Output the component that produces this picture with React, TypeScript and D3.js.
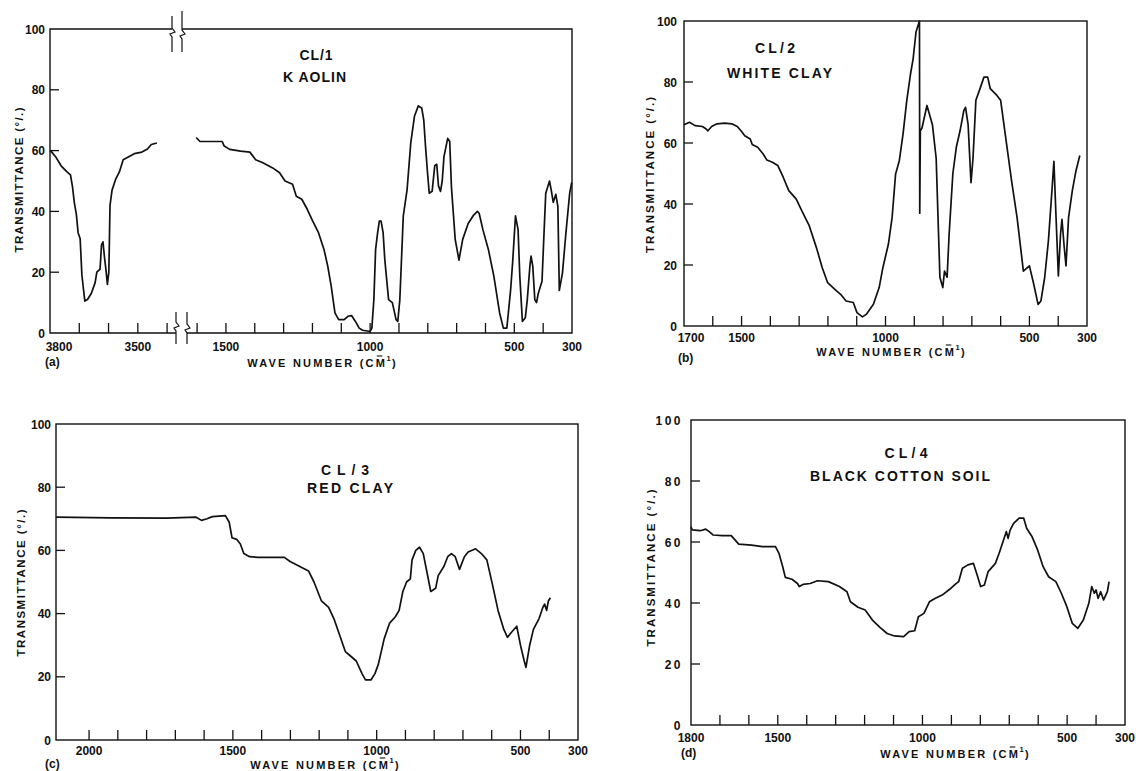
import React from "react";
import * as d3 from "d3";

type Pt = [number, number];

// ---------- (a) CL/1 KAOLIN : two sections of a broken wave-number axis ----------
const kaolinHigh: Pt[] = [
  [3800, 60], [3794, 59.5], [3781, 58], [3762, 55], [3742, 53], [3730, 52], [3723, 48], [3717, 43],
  [3710, 39], [3704, 33], [3697, 31], [3691, 19], [3681, 10.5], [3672, 11], [3659, 13], [3646, 16.5],
  [3640, 20], [3629, 21], [3624, 29], [3619, 30], [3614, 25], [3608, 20], [3604, 16], [3599, 20],
  [3595, 42], [3588, 47], [3576, 50.5], [3563, 53], [3550, 57], [3531, 58], [3512, 59], [3486, 59.5],
  [3467, 60.5], [3454, 62], [3435, 62.5],
];
const kaolinLow: Pt[] = [
  [1603, 64.3], [1590, 63], [1564, 63], [1526, 63], [1513, 63], [1506, 61.5], [1487, 60.4], [1449, 59.8],
  [1417, 59.5], [1397, 57], [1372, 56], [1333, 54], [1314, 52.7], [1295, 50], [1269, 48.9], [1256, 45],
  [1237, 44], [1218, 40.7], [1199, 36.8], [1179, 33], [1160, 27.5], [1147, 22], [1135, 15.4], [1122, 6.6],
  [1109, 4.4], [1090, 4.4], [1077, 5.5], [1064, 5.7], [1051, 3.8], [1038, 1.6], [1026, 0.9], [1000, 0.5],
  [994, 1.6], [987, 11], [981, 27.5], [974, 33], [968, 36.8], [962, 36.8], [955, 33], [949, 24],
  [936, 11], [923, 10], [910, 4.4], [904, 3.8], [897, 11], [885, 38.5], [872, 47], [859, 62.6],
  [846, 71.4], [833, 74.7], [821, 74], [814, 70], [808, 61.5], [801, 52.7], [795, 46], [785, 46.6],
  [776, 55], [769, 55.5], [763, 48.4], [756, 46.6], [750, 50], [744, 58], [731, 64], [724, 63],
  [718, 48], [705, 30.8], [692, 24], [679, 30.8], [660, 36], [641, 38.8], [628, 40], [622, 39.4],
  [609, 34], [590, 27.5], [571, 18.7], [551, 6.6], [538, 1.6], [526, 1.6], [513, 14], [506, 23],
  [496, 38.5], [487, 34], [481, 18.7], [472, 3.8], [462, 5], [455, 11], [446, 22], [442, 25.3],
  [436, 22], [429, 11], [423, 10], [417, 13], [404, 17], [397, 33], [391, 46], [378, 50],
  [372, 47], [365, 43], [356, 45.6], [349, 41.6], [344, 14], [333, 19.8], [321, 33], [308, 46], [301, 49.5],
];
const kaolinHighTicks = [3700, 3600, 3500, 3400];
const kaolinLowTicks = [1600, 1500, 1400, 1300, 1200, 1100, 1000, 900, 800, 700, 600, 500, 400];
const kaolinHighLabels = [3800, 3500];
const kaolinLowLabels = [1500, 1000, 500, 300];

// ---------- (b) CL/2 WHITE CLAY ----------
const whiteClay: Pt[] = [
  [1700, 66], [1681, 66.8], [1662, 65.7], [1636, 65.4], [1623, 64.6], [1617, 64], [1604, 65.4], [1585, 66.3],
  [1559, 66.5], [1534, 66.3], [1515, 65.4], [1502, 64], [1489, 62.4], [1470, 61.3], [1463, 59.5], [1444, 58.6],
  [1425, 56.4], [1412, 54.4], [1393, 53.7], [1374, 52.6], [1355, 48.7], [1336, 44.4], [1310, 41.6], [1291, 37.8],
  [1265, 32.9], [1240, 25.7], [1220, 19.2], [1201, 14.2], [1176, 12], [1156, 10.4], [1137, 8.2], [1112, 7.7],
  [1099, 4.4], [1080, 3], [1067, 3.8], [1042, 7.1], [1022, 12.6], [1009, 19.2], [990, 26.8], [977, 35.6],
  [965, 49.8], [952, 54.2], [939, 63], [926, 74], [913, 82.7], [904, 87.6], [894, 96.4], [887, 98.5],
  [882, 100], [881, 37], [879, 64], [873, 65], [856, 72.3], [837, 66], [824, 55], [811, 16],
  [801, 12.6], [795, 18], [786, 16], [779, 30], [766, 50], [754, 58.6], [741, 64], [728, 70.6],
  [722, 71.7], [713, 66], [703, 47], [696, 55], [686, 74], [671, 78], [658, 81.6], [645, 81.6],
  [636, 77.8], [613, 75.6], [600, 74], [581, 60.8], [562, 47.6], [543, 35.6], [521, 18], [500, 19.7],
  [485, 13.7], [470, 7.1], [460, 8.2], [447, 15.9], [434, 28], [421, 45.5], [415, 54], [408, 36.7],
  [399.5, 16.4], [392, 30], [387, 35], [380, 26.8], [373, 19.7], [364, 35.6], [351, 44.4], [338, 51], [325, 55.9],
];
const whiteClayTicks = [1600, 1500, 1400, 1300, 1200, 1100, 1000, 900, 800, 700, 600, 500, 400];
const whiteClayLabels = [1700, 1500, 1000, 500, 300];

// ---------- (c) CL/3 RED CLAY ----------
const redClay: Pt[] = [
  [2115, 70.5], [1923, 70.3], [1731, 70.2], [1628, 70.5], [1609, 69.5], [1590, 70], [1571, 70.7], [1526, 71],
  [1513, 69], [1503, 64], [1487, 63.5], [1474, 62], [1462, 59], [1442, 58], [1410, 57.8], [1321, 57.8],
  [1301, 56.5], [1269, 55], [1237, 53.5], [1218, 50], [1192, 44], [1167, 42], [1147, 38], [1128, 33],
  [1109, 28], [1090, 26.5], [1071, 25], [1051, 21], [1039, 19], [1020, 19], [1006, 21], [994, 24],
  [974, 32], [955, 37], [935, 39], [922, 41], [909, 47], [896, 50], [883, 51], [877, 57],
  [864, 60], [851, 61], [838, 59], [825, 53], [812, 47], [795, 48], [786, 52], [766, 55],
  [753, 58], [740, 59], [727, 58], [712, 54], [695, 58], [682, 59.5], [656, 60.5], [636, 59],
  [617, 57], [597, 49], [578, 41], [558, 35], [545, 32.5], [532, 34], [513, 36], [500, 30],
  [487, 25], [481, 23], [468, 30], [455, 35], [435, 38.5], [422, 42], [416, 43], [409, 41],
  [403, 44], [396, 45],
];
const redClayTicks = [2000, 1900, 1800, 1700, 1600, 1500, 1400, 1300, 1200, 1100, 1000, 900, 800, 700, 600, 500, 400];
const redClayLabels = [2000, 1500, 1000, 500, 300];

// ---------- (d) CL/4 BLACK COTTON SOIL ----------
const blackSoil: Pt[] = [
  [1800, 65], [1796, 64], [1768, 63.7], [1749, 64.2], [1737, 63.4], [1724, 62.3], [1692, 62.1], [1661, 62.1],
  [1648, 60.7], [1635, 59.3], [1591, 59], [1553, 58.5], [1508, 58.5], [1496, 56.3], [1483, 51.9], [1474, 48.4],
  [1451, 47.8], [1432, 46.4], [1426, 45.4], [1413, 46.1], [1388, 46.4], [1363, 47.3], [1325, 47], [1287, 45.4],
  [1261, 43.7], [1249, 40.4], [1223, 38.6], [1198, 37.7], [1173, 34.4], [1147, 32], [1122, 30], [1097, 29.2],
  [1065, 29], [1046, 30.6], [1027, 30.9], [1014, 35.5], [995, 36.6], [976, 40.4], [957, 41.5], [932, 42.6],
  [906, 44.5], [887, 46.1], [875, 47], [862, 51.4], [843, 52.5], [824, 53], [811, 49.2], [799, 45.4],
  [786, 45.9], [773, 50.3], [748, 53], [735, 56.3], [716, 61.7], [710, 63.4], [704, 61.2], [697, 63.9],
  [685, 66.1], [666, 67.8], [650, 67.8], [640, 64.5], [621, 61.7], [602, 57.4], [583, 51.9], [564, 48.6],
  [539, 47], [520, 43.2], [501, 38.8], [482, 33.3], [463, 31.7], [444, 34.4], [425, 39.9], [415, 45.4],
  [406, 43.2], [400, 44.3], [393, 41.5], [384, 43.7], [374, 41], [361, 43.7], [355, 47],
];
const blackSoilTicks = [1700, 1600, 1500, 1400, 1300, 1200, 1100, 1000, 900, 800, 700, 600, 500, 400];
const blackSoilLabels = [1800, 1500, 1000, 500, 300];

// ---------- shared y axis ----------
const yTickValues = [20, 40, 60, 80];
const yLabelValues = [0, 20, 40, 60, 80, 100];

const FONT = "'Liberation Sans', Arial, Helvetica, sans-serif";
const INK = "#111";
const TXT = { fontFamily: FONT, fontWeight: 700, fill: INK } as const;

type Seg = {
  domain: [number, number];
  range: [number, number];
  data: Pt[];
  ticks: number[];
  labels: number[];
};

type PanelProps = {
  left: number; right: number; top: number; bottom: number;
  segs: Seg[];
  broken?: boolean;
  labelBase: number;
  labelShift?: Record<number, number>;
  yLabelGap: number;
  yLabelSpacing?: number;
  tag: string; tagX: number; tagY: number;
  xTitleX: number; xTitleY: number;
  yTitleX: number; yTitleY: number; yTitleLen: number;
  title1: string; t1x: number; t1y: number; t1len: number;
  title2: string; t2x: number; t2y: number; t2len: number;
};

function BreakMark({ x, y1, y2, ym }: { x: number; y1: number; y2: number; ym: number }) {
  const d = `M${x},${y1} V${ym - 5} L${x + 3},${ym - 1} L${x - 2},${ym + 1} L${x},${ym + 4} V${y2}`;
  return <path d={d} fill="none" stroke={INK} strokeWidth={1.2} />;
}

// "WAVE NUMBER (CM̄¹)" : main run, a bar over the M, a superscript 1 and the closing bracket
function XTitle({ cx, y }: { cx: number; y: number }) {
  const ls = 2.2;
  const endX = cx + 65;
  const mRight = endX - ls - 0.5;
  return (
    <g>
      <text x={endX} y={y} textAnchor="end" fontSize={11} letterSpacing={ls} {...TXT}>WAVE NUMBER (CM</text>
      <line x1={mRight - 7.5} x2={mRight - 2} y1={y - 11} y2={y - 11} stroke={INK} strokeWidth={1.1} />
      <text x={endX - 0.5} y={y - 6} fontSize={7.5} {...TXT}>1</text>
      <text x={endX + 5} y={y} fontSize={11} {...TXT}>)</text>
    </g>
  );
}

function Panel(p: PanelProps) {
  const y = d3.scaleLinear().domain([0, 100]).range([p.bottom, p.top]);
  const segs = p.segs.map((s) => ({ ...s, x: d3.scaleLinear().domain(s.domain).range(s.range) }));

  let frame: React.ReactNode;
  if (p.broken) {
    const s0 = segs[0], s1 = segs[1];
    const topGapL = s0.range[1] - 3, topGapR = s1.range[0] - 5;
    const botGapL = s0.range[1] + 1, botGapR = s1.range[0];
    frame = (
      <g fill="none" stroke={INK} strokeWidth={1.4}>
        <path d={`M${topGapL},${p.top} H${p.left} V${p.bottom} H${botGapL}`} />
        <path d={`M${topGapR},${p.top} H${p.right} V${p.bottom} H${botGapR}`} />
        <BreakMark x={topGapL} y1={p.top - 13} y2={p.top + 23} ym={p.top + 4} />
        <BreakMark x={topGapR} y1={p.top - 18} y2={p.top + 23} ym={p.top + 6} />
        <BreakMark x={botGapL} y1={p.bottom - 21} y2={p.bottom + 11} ym={p.bottom - 6} />
        <BreakMark x={botGapR} y1={p.bottom - 21} y2={p.bottom + 11} ym={p.bottom - 4} />
      </g>
    );
  } else {
    frame = (
      <rect x={p.left} y={p.top} width={p.right - p.left} height={p.bottom - p.top}
        fill="none" stroke={INK} strokeWidth={1.4} />
    );
  }

  return (
    <g>
      {frame}
      {yTickValues.map((v) => (
        <line key={"yt" + v} x1={p.left} x2={p.left + 9} y1={y(v)} y2={y(v)} stroke={INK} strokeWidth={1.3} />
      ))}
      {yLabelValues.map((v) => (
        <text key={"yl" + v} x={p.left - p.yLabelGap} y={y(v) + 4.5} textAnchor="end" fontSize={12}
          letterSpacing={p.yLabelSpacing ?? 0} {...TXT}>{v}</text>
      ))}
      {segs.map((s, i) => {
        const line = d3.line<Pt>().x((d) => s.x(d[0])).y((d) => y(d[1]));
        return (
          <g key={"s" + i}>
            {s.ticks.map((t) => (
              <line key={"xt" + t} x1={s.x(t)} x2={s.x(t)} y1={p.bottom} y2={p.bottom - 10} stroke={INK} strokeWidth={1.3} />
            ))}
            {s.labels.map((t) => (
              <text key={"xl" + t} x={s.x(t) + (p.labelShift?.[t] ?? 0)} y={p.labelBase} textAnchor="middle"
                fontSize={12} {...TXT}>{t}</text>
            ))}
            <path d={line(s.data) ?? ""} fill="none" stroke={INK} strokeWidth={1.7} strokeLinejoin="round" />
          </g>
        );
      })}
      <text x={p.tagX} y={p.tagY} fontSize={12} {...TXT}>{p.tag}</text>
      <XTitle cx={p.xTitleX} y={p.xTitleY} />
      <text transform={`translate(${p.yTitleX},${p.yTitleY}) rotate(-90)`} textAnchor="middle" dy="0.36em"
        fontSize={11.5} textLength={p.yTitleLen} lengthAdjust="spacing" {...TXT}>
        TRANSMITTANCE (°/.)
      </text>
      <text x={p.t1x} y={p.t1y} textAnchor="middle" fontSize={14} textLength={p.t1len} lengthAdjust="spacing" {...TXT}>{p.title1}</text>
      <text x={p.t2x} y={p.t2y} textAnchor="middle" fontSize={14} textLength={p.t2len} lengthAdjust="spacing" {...TXT}>{p.title2}</text>
    </g>
  );
}

export default function App() {
  return (
    <svg width={1136} height={771} style={{ position: "absolute", left: 0, top: 0, background: "#fff" }}>
      <rect x={0} y={0} width={1136} height={771} fill="#fff" />
      <Panel
        left={50} right={572} top={29} bottom={333}
        broken
        segs={[
          { domain: [3800, 3373], range: [50, 175], data: kaolinHigh, ticks: kaolinHighTicks, labels: kaolinHighLabels },
          { domain: [1635, 300], range: [187, 572], data: kaolinLow, ticks: kaolinLowTicks, labels: kaolinLowLabels },
        ]}
        labelBase={351} labelShift={{ 3800: 9 }} yLabelGap={5}
        tag="(a)" tagX={45} tagY={366}
        xTitleX={322} xTitleY={367}
        yTitleX={18.5} yTitleY={180} yTitleLen={145}
        title1="CL/1" t1x={316} t1y={60} t1len={33}
        title2="K AOLIN" t2x={314.5} t2y={82} t2len={63}
      />
      <Panel
        left={684} right={1087} top={21} bottom={326}
        segs={[{ domain: [1700, 300], range: [684, 1087], data: whiteClay, ticks: whiteClayTicks, labels: whiteClayLabels }]}
        labelBase={342} labelShift={{ 1700: 7 }} yLabelGap={7}
        tag="(b)" tagX={678} tagY={362}
        xTitleX={891} xTitleY={356}
        yTitleX={650} yTitleY={175} yTitleLen={156}
        title1="CL/2" t1x={775} t1y={53} t1len={40}
        title2="WHITE CLAY" t2x={779.5} t2y={78} t2len={105}
      />
      <Panel
        left={56} right={578} top={424} bottom={740}
        segs={[{ domain: [2115, 300], range: [56, 578], data: redClay, ticks: redClayTicks, labels: redClayLabels }]}
        labelBase={755} yLabelGap={5}
        tag="(c)" tagX={45} tagY={768}
        xTitleX={325} xTitleY={769}
        yTitleX={20.5} yTitleY={583} yTitleLen={147}
        title1="CL/3" t1x={345} t1y={475} t1len={48}
        title2="RED CLAY" t2x={350} t2y={493} t2len={86}
      />
      <Panel
        left={691} right={1125} top={420} bottom={725}
        segs={[{ domain: [1800, 300], range: [691, 1125], data: blackSoil, ticks: blackSoilTicks, labels: blackSoilLabels }]}
        labelBase={742} yLabelGap={8} yLabelSpacing={2.5}
        tag="(d)" tagX={681} tagY={757}
        xTitleX={955} xTitleY={758}
        yTitleX={651} yTitleY={568} yTitleLen={157}
        title1="CL/4" t1x={906} t1y={458} t1len={43}
        title2="BLACK COTTON SOIL" t2x={900} t2y={481} t2len={180}
      />
    </svg>
  );
}
